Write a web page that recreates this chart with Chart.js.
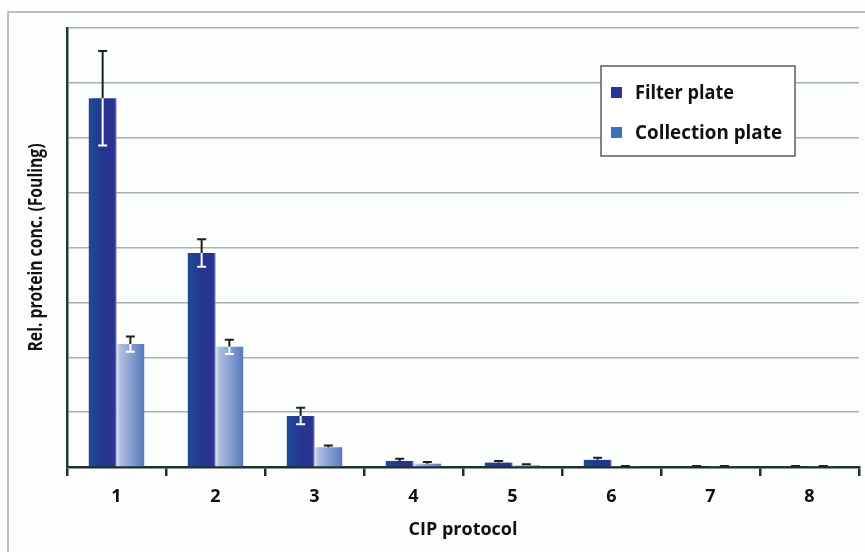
<!DOCTYPE html>
<html>
<head>
<meta charset="utf-8">
<script src="https://cdn.jsdelivr.net/npm/chart.js@4"></script>
<style>
  html, body { margin: 0; padding: 0; background: #fff; }
  #wrap { width: 865px; height: 552px; position: relative; }
</style>
</head>
<body>
<div id="wrap"><canvas id="foulingChart"></canvas></div>
<script>
// CIP protocol fouling data (in gridline units)
const protocols = ['1', '2', '3', '4', '5', '6', '7', '8'];
const filterPlate = [6.72, 3.90, 0.93, 0.11, 0.08, 0.13, 0.01, 0.01];
const filterErr = [0.86, 0.25, 0.15, 0.04, 0.03, 0.04, 0.01, 0.01];
const collectionPlate = [2.24, 2.19, 0.36, 0.06, 0.03, 0.01, 0.01, 0.01];
const collectionErr = [0.14, 0.13, 0.03, 0.03, 0.02, 0.01, 0.01, 0.01];
const yTicks = [0, 1, 2, 3, 4, 5, 6, 7, 8];

const errors = [filterErr, collectionErr];
const BAR_FRAC = 0.56;

function barGradient(ctx, stops, solid) {
    const chart = ctx.chart;
    const xs = chart.scales && chart.scales.x;
    if (!chart.chartArea || !xs) return solid;
    const cw = (xs.right - xs.left) / protocols.length;
    const w = cw * BAR_FRAC / 2;
    const cx = xs.getPixelForValue(ctx.dataIndex);
    const left = ctx.datasetIndex === 0 ? cx - w : cx;
    const g = chart.ctx.createLinearGradient(left, 0, left + w, 0);
    stops.forEach(s => g.addColorStop(s[0], s[1]));
    return g;
}

// frame round the figure
const framePlugin = {
    id: 'frame',
    beforeDraw(chart) {
        const c = chart.ctx;
        c.save();
        c.fillStyle = '#fcfdfd';
        c.fillRect(0, 0, chart.width, chart.height);
        c.strokeStyle = '#a9a9a9';
        c.lineWidth = 1.5;
        c.strokeRect(8, 12, chart.width + 20, chart.height + 20);
        c.restore();
    }
};

// error bars: dark above the bar top, white inside the bar
const errorBarPlugin = {
    id: 'errorBars',
    afterDatasetsDraw(chart) {
        const c = chart.ctx;
        const ys = chart.scales.y;
        c.save();
        c.lineWidth = 2;
        chart.data.datasets.forEach((ds, di) => {
            const meta = chart.getDatasetMeta(di);
            meta.data.forEach((bar, i) => {
                const v = ds.data[i], e = errors[di][i];
                const yTop = ys.getPixelForValue(v + e);
                const yBot = Math.min(ys.getPixelForValue(Math.max(v - e, 0)), ys.bottom);
                const cap = 4.5;
                c.strokeStyle = '#1b2320';
                c.beginPath();
                c.moveTo(bar.x, yTop); c.lineTo(bar.x, bar.y);
                c.moveTo(bar.x - cap, yTop); c.lineTo(bar.x + cap, yTop);
                c.stroke();
                if (bar.y - yBot < -3) {
                    c.strokeStyle = '#ffffff';
                    c.beginPath();
                    c.moveTo(bar.x, bar.y); c.lineTo(bar.x, yBot);
                    c.moveTo(bar.x - cap, yBot); c.lineTo(bar.x + cap, yBot);
                    c.stroke();
                }
            });
        });
        c.restore();
    }
};

// y axis title and legend box inside the plot
const legendBoxPlugin = {
    id: 'legendBox',
    afterDraw(chart) {
        const c = chart.ctx;
        c.save();
        c.translate(37, (chart.chartArea.top + chart.chartArea.bottom) / 2);
        c.rotate(-Math.PI / 2);
        c.font = '700 19px "Open Sans"';
        c.fillStyle = '#111111';
        c.textAlign = 'center';
        c.textBaseline = 'middle';
        c.fillText('Rel. protein conc. (Fouling)', 0, 0, 208);
        c.restore();

        c.save();
        c.fillStyle = '#ffffff';
        c.fillRect(601, 66, 194, 90);
        c.strokeStyle = '#56605e';
        c.lineWidth = 1.5;
        c.strokeRect(601, 66, 194, 90);
        const items = [
            { text: 'Filter plate', color: '#2b3592', y: 99, w: 99 },
            { text: 'Collection plate', color: '#3d72b8', y: 139, w: 147 }
        ];
        c.font = '700 20px "Open Sans"';
        c.textBaseline = 'alphabetic';
        items.forEach(it => {
            c.fillStyle = it.color;
            c.fillRect(611, it.y - 12, 11, 11);
            c.fillStyle = '#111111';
            c.fillText(it.text, 635, it.y, it.w);
        });
        c.restore();
    }
};

const foulingCtx = document.getElementById('foulingChart');
new Chart(foulingCtx, {
    type: 'bar',
    data: {
        labels: protocols,
        datasets: [{
            label: 'Filter plate',
            data: filterPlate,
            backgroundColor: ctx => barGradient(ctx, [[0, '#1d4b98'], [0.45, '#25378f'], [0.92, '#2a3292'], [1, '#7280bf']], '#2b3592'),
            borderWidth: 0,
            barPercentage: 1,
            categoryPercentage: BAR_FRAC
        }, {
            label: 'Collection plate',
            data: collectionPlate,
            backgroundColor: ctx => barGradient(ctx, [[0, '#e4eaf5'], [0.12, '#b0c0e2'], [1, '#5779bd']], '#6d8cc8'),
            borderWidth: 0,
            barPercentage: 1,
            categoryPercentage: BAR_FRAC
        }]
    },
    options: {
        responsive: true,
        maintainAspectRatio: false,
        animation: false,
        layout: { padding: { top: 28, right: 6, left: 0, bottom: 0 } },
        plugins: {
            legend: { display: false },
            tooltip: { enabled: false }
        },
        scales: {
            x: {
                grid: {
                    drawOnChartArea: false,
                    drawTicks: true,
                    tickLength: 9,
                    color: '#1e302c',
                    lineWidth: 2.5
                },
                border: { color: '#1e302c', width: 2.5 },
                ticks: {
                    color: '#111111',
                    padding: 10,
                    font: { family: 'Open Sans', size: 18, weight: '700' }
                },
                title: {
                    display: true,
                    text: 'CIP protocol',
                    color: '#111111',
                    padding: { top: 0, bottom: 11 },
                    font: { family: 'Open Sans', size: 18, weight: '700' }
                },
                afterFit(scale) { scale.height = 85; }
            },
            y: {
                min: 0,
                max: 8,
                afterBuildTicks(scale) { scale.ticks = yTicks.map(v => ({ value: v })); },
                ticks: { display: false },
                grid: {
                    drawTicks: false,
                    color: '#a9b0b0',
                    lineWidth: 1.5
                },
                border: { color: '#1e3b35', width: 2.5 },
                afterFit(scale) { scale.width = 67; }
            }
        }
    },
    plugins: [framePlugin, errorBarPlugin, legendBoxPlugin]
});
</script>
</body>
</html>
